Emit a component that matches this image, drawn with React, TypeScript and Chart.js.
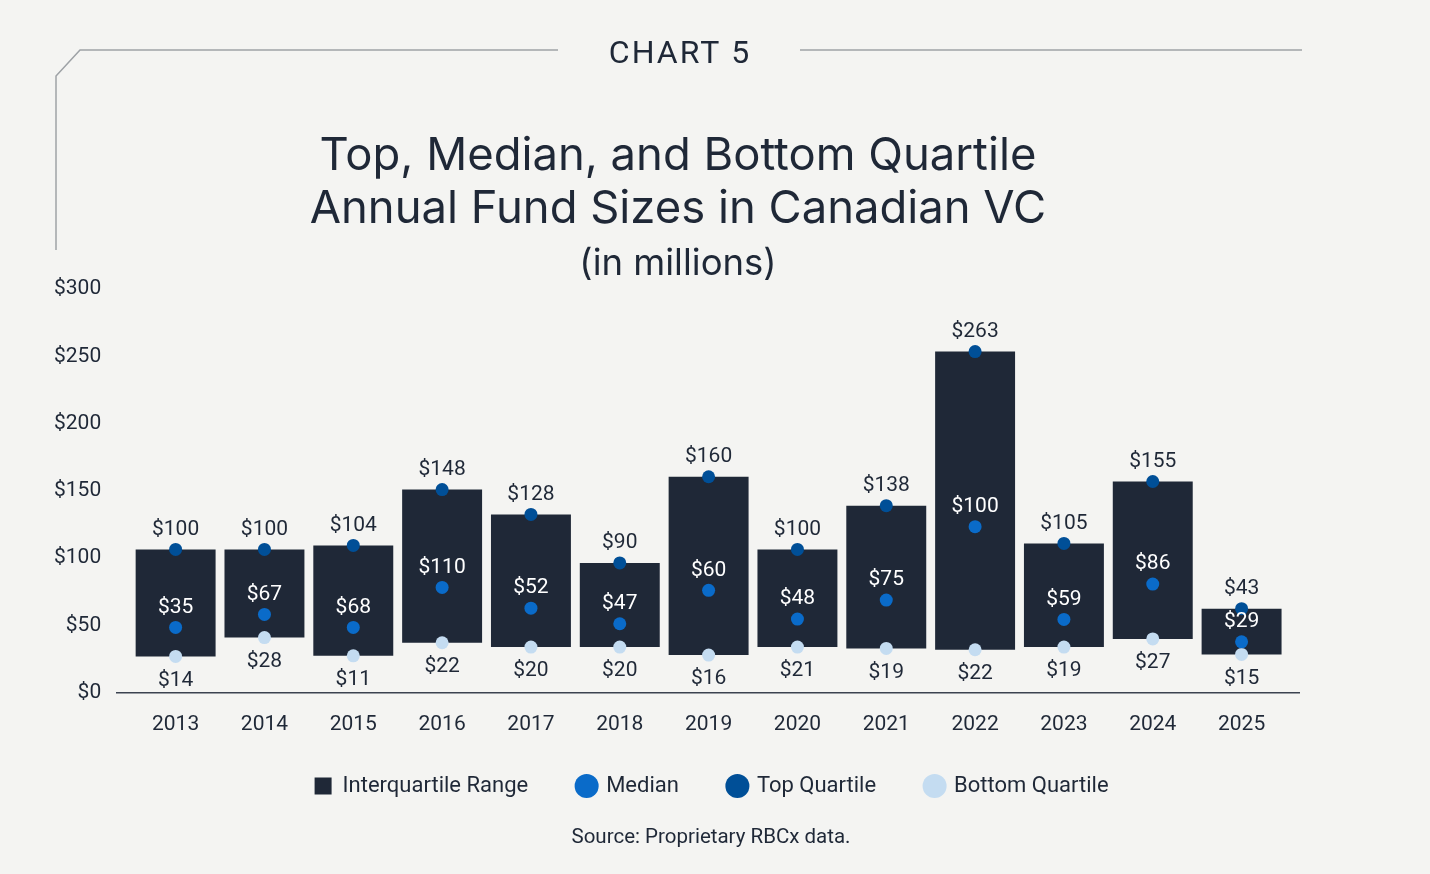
import { useEffect, useRef } from 'react'
import { Chart, registerables } from 'chart.js'

Chart.register(...registerables)

const years = ['2013', '2014', '2015', '2016', '2017', '2018', '2019', '2020', '2021', '2022', '2023', '2024', '2025']

// printed values (in $ millions)
const topQuartile = [100, 100, 104, 148, 128, 90, 160, 100, 138, 263, 105, 155, 43]
const median = [35, 67, 68, 110, 52, 47, 60, 48, 75, 100, 59, 86, 29]
const bottomQuartile = [14, 28, 11, 22, 20, 20, 16, 21, 19, 22, 19, 27, 15]

// where the marks actually sit on the axis in the original graphic
const topMarker = [106.5, 106.5, 109.5, 151, 132.5, 96.5, 160.5, 106.5, 139, 253.5, 111, 157, 62.5]
const medianMarker = [48.6, 58.2, 48.6, 78.3, 62.9, 51.3, 76.1, 54.8, 68.9, 123.4, 54.5, 80.8, 37.9]
const bottomMarker = [27, 41, 27.5, 37.2, 34, 34, 28, 34, 33, 32, 34, 40, 28.5]

const yTicks = [0, 50, 100, 150, 200, 250, 300]

const titleLines = ['Top, Median, and Bottom Quartile', 'Annual Fund Sizes in Canadian VC']
const subtitle = '(in millions)'
const source = 'Source: Proprietary RBCx data.'

const ink = '#1f2837'
const topBlue = '#004f97'
const medianBlue = '#0a6bc9'
const bottomBlue = '#c4dcf1'
const bg = '#f4f4f2'

const backdrop = {
  id: 'backdrop',
  beforeDraw(chart: any) {
    const { ctx, width, height } = chart
    ctx.save()
    ctx.fillStyle = bg
    ctx.fillRect(0, 0, width, height)
    ctx.restore()
  }
}

// nudge the legend so it sits where the original has it
const legendShift = {
  id: 'legendShift',
  afterLayout(chart: any) {
    const lg = chart.legend
    if (!lg) return
    lg.left += 3
    lg.right += 3
    lg.top -= 31
    lg.bottom -= 31
  }
}

const header = {
  id: 'header',
  afterDraw(chart: any) {
    const ctx = chart.ctx
    ctx.save()
    ctx.strokeStyle = '#9ea2a6'
    ctx.lineWidth = 1.5
    ctx.beginPath()
    ctx.moveTo(56, 250)
    ctx.lineTo(56, 76)
    ctx.lineTo(80, 50)
    ctx.lineTo(558, 50)
    ctx.moveTo(800, 50)
    ctx.lineTo(1302, 50)
    ctx.stroke()

    ctx.fillStyle = ink
    ctx.textAlign = 'center'
    ctx.textBaseline = 'alphabetic'
    ctx.font = '32px Roboto'
    ctx.letterSpacing = '2px'
    ctx.fillText('CHART 5', 680, 63)
    ctx.letterSpacing = '0px'
    ctx.font = '45.4px Inter'
    ctx.fillText(titleLines[0], 678, 170)
    ctx.fillText(titleLines[1], 678, 223)
    ctx.font = '36.5px Inter'
    ctx.fillText(subtitle, 678, 275)
    ctx.font = '20.5px Roboto'
    ctx.fillText(source, 711, 843)
    ctx.restore()
  }
}

const baseline = {
  id: 'baseline',
  beforeDatasetsDraw(chart: any) {
    const { ctx, scales } = chart
    const y = scales.y.getPixelForValue(0)
    ctx.save()
    ctx.strokeStyle = '#3b4250'
    ctx.lineWidth = 1.5
    ctx.beginPath()
    ctx.moveTo(116, y)
    ctx.lineTo(1300, y)
    ctx.stroke()
    ctx.restore()
  }
}

const valueLabels = {
  id: 'valueLabels',
  afterDatasetsDraw(chart: any) {
    const { ctx, scales } = chart
    ctx.save()
    ctx.font = '21px Roboto'
    ctx.textAlign = 'center'
    ctx.textBaseline = 'middle'
    years.forEach((_, i) => {
      const x = scales.x.getPixelForValue(i)
      ctx.fillStyle = ink
      ctx.fillText('$' + topQuartile[i], x, scales.y.getPixelForValue(topMarker[i]) - 20)
      ctx.fillText('$' + bottomQuartile[i], x, scales.y.getPixelForValue(bottomMarker[i]) + 24)
      ctx.fillStyle = '#ffffff'
      ctx.fillText('$' + median[i], x, scales.y.getPixelForValue(medianMarker[i]) - 20)
    })
    ctx.restore()
  }
}

function dots(label: string, data: number[], color: string) {
  return {
    type: 'line' as const,
    label,
    data,
    showLine: false,
    pointRadius: 6.5,
    pointHoverRadius: 6.5,
    pointStyle: 'circle',
    pointBackgroundColor: color,
    pointBorderWidth: 0,
    backgroundColor: color,
    borderColor: color,
    borderWidth: 0,
    order: 1
  }
}

export default function App() {
  const chartRef = useRef<HTMLCanvasElement>(null)
  const chartInstance = useRef<Chart | null>(null)

  useEffect(() => {
    if (!chartRef.current) return
    if (chartInstance.current) chartInstance.current.destroy()
    const ctx = chartRef.current.getContext('2d')
    if (!ctx) return

    chartInstance.current = new Chart(ctx, {
      type: 'bar',
      data: {
        labels: years,
        datasets: [
          {
            type: 'bar' as const,
            label: 'Interquartile Range',
            data: years.map((_, i) => [bottomMarker[i], topMarker[i]]) as any,
            backgroundColor: ink,
            borderWidth: 0,
            barPercentage: 0.9,
            categoryPercentage: 1,
            pointStyle: 'rect',
            order: 2
          } as any,
          dots('Median', medianMarker, medianBlue),
          dots('Top Quartile', topMarker, topBlue),
          dots('Bottom Quartile', bottomMarker, bottomBlue)
        ]
      },
      options: {
        animation: false,
        responsive: false,
        layout: { padding: { top: 289, left: 24, right: 144, bottom: 36 } },
        plugins: {
          legend: {
            position: 'bottom',
            fullSize: false,
            labels: {
              usePointStyle: true,
              boxWidth: 17,
              boxHeight: 17,
              padding: 50,
              color: ink,
              font: { family: 'Roboto', size: 22 },
              sort: (a: any, b: any) => a.datasetIndex - b.datasetIndex
            }
          },
          tooltip: { enabled: false },
          title: { display: false }
        },
        scales: {
          x: {
            offset: true,
            grid: { display: false, drawTicks: false },
            border: { display: false },
            ticks: { color: ink, font: { family: 'Roboto', size: 21 }, padding: 19 }
          },
          y: {
            min: 0,
            max: 300,
            afterBuildTicks: (scale: any) => {
              scale.ticks = yTicks.map(v => ({ value: v }))
            },
            grid: { display: false, drawTicks: false },
            border: { display: false },
            ticks: {
              color: ink,
              font: { family: 'Roboto', size: 21 },
              padding: 30,
              callback: (v: any) => '$' + v
            }
          }
        }
      },
      plugins: [backdrop, legendShift, baseline, valueLabels, header]
    })

    return () => {
      if (chartInstance.current) {
        chartInstance.current.destroy()
        chartInstance.current = null
      }
    }
  }, [])

  return (
    <div style={{ position: 'fixed', top: 0, left: 0, width: 1430, height: 874, background: bg }}>
      <canvas ref={chartRef} width={1430} height={874} style={{ display: 'block' }} />
    </div>
  )
}
